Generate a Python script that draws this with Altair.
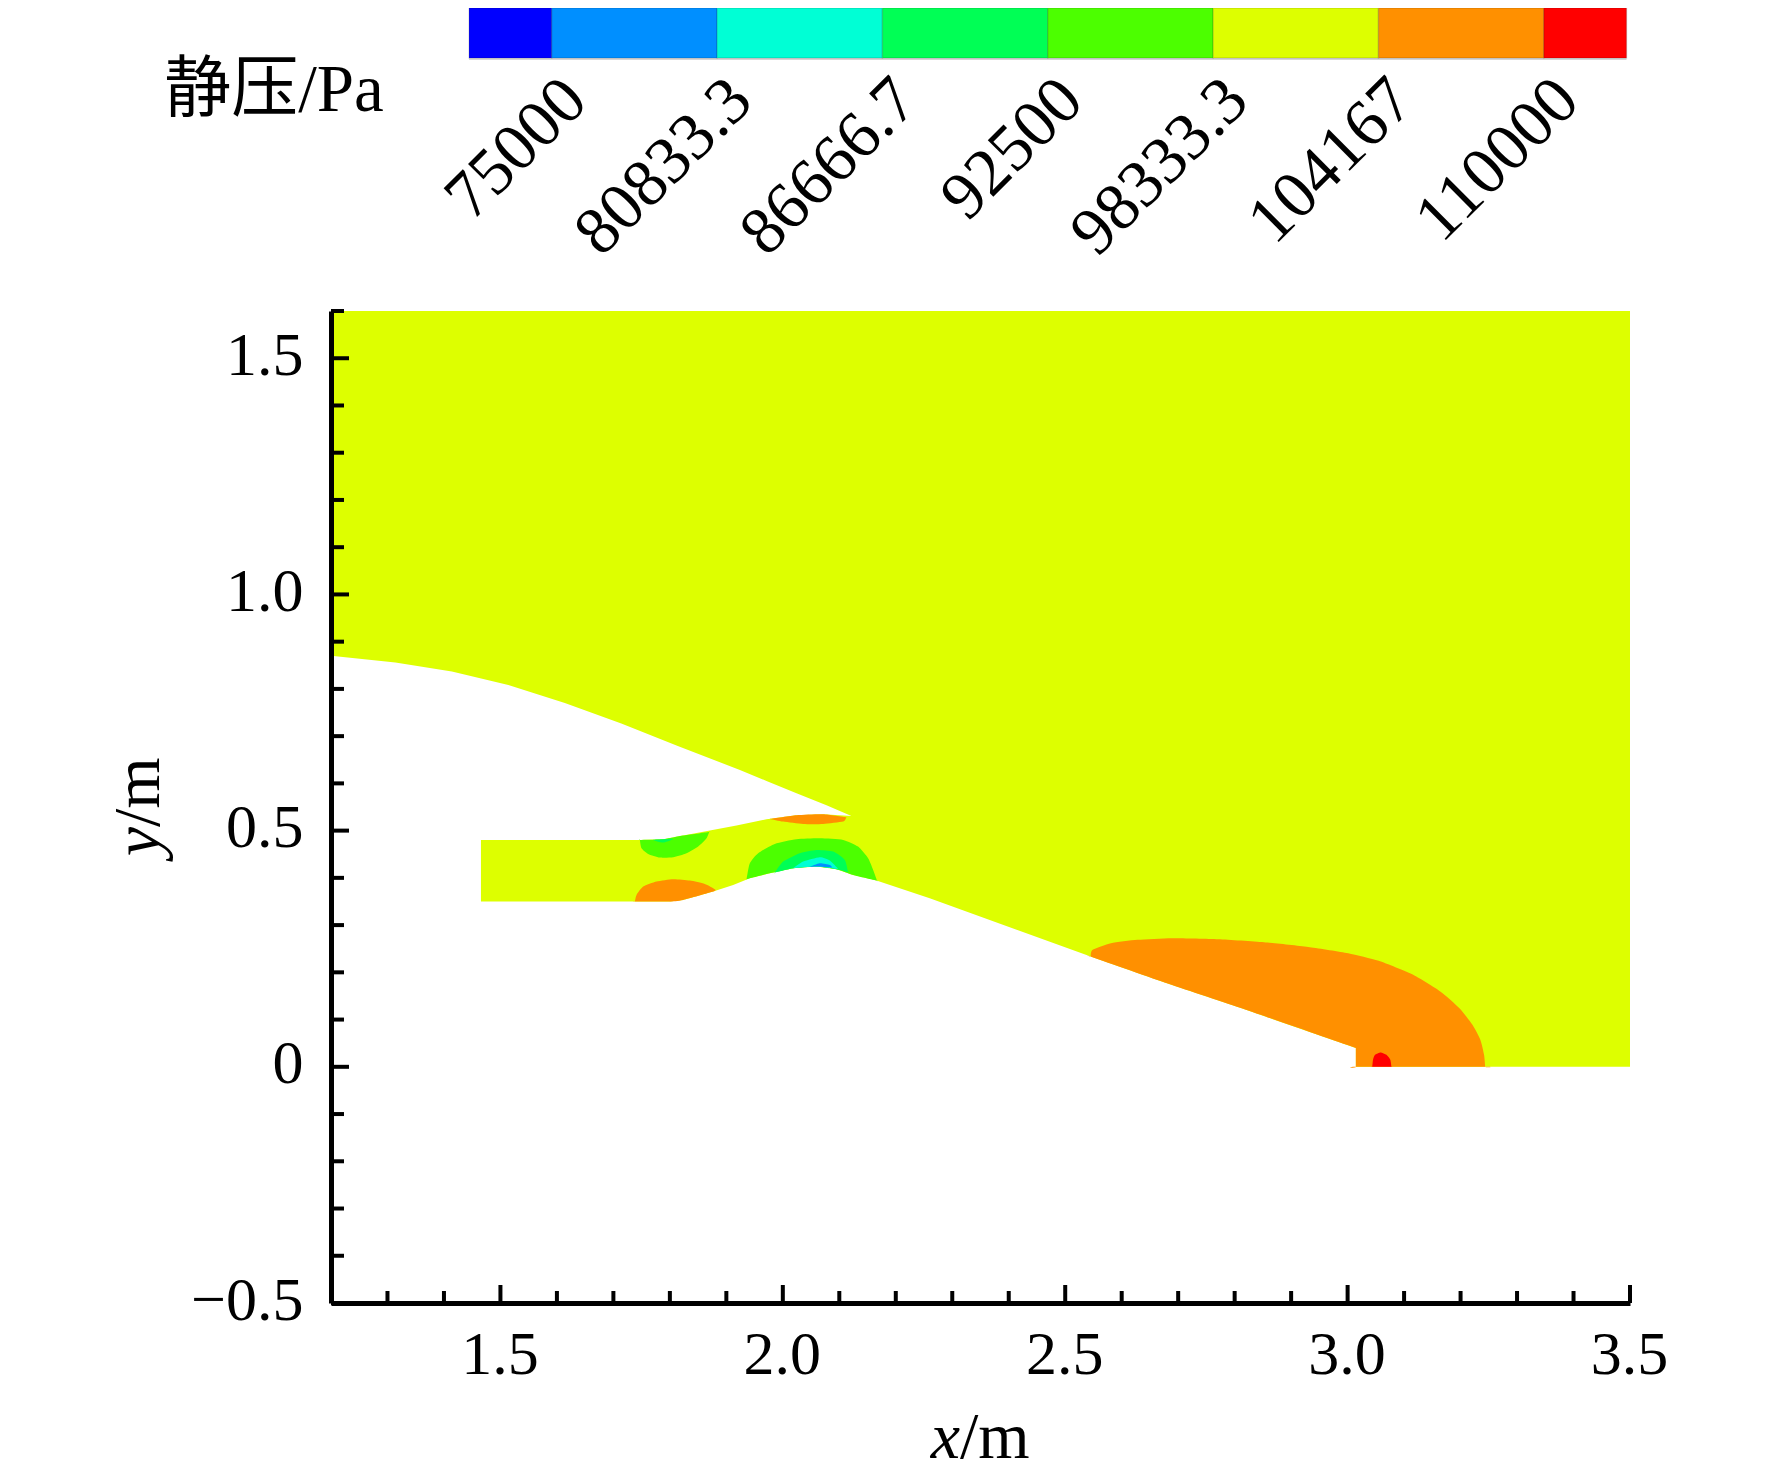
import altair as alt
import pandas as pd

SERIF = "Liberation Serif"
W, H = 1299, 992

# ---- geometry of the field, in metres ----
lower_wall = [(1.4655,.3498),(1.8,.35),(1.8236,.3533),(1.8767,.3710),(1.9121,.3851),(1.9416,.3992),
              (1.9770,.4097),(2.0183,.4203),(2.0596,.4239),(2.0950,.4182),(2.1245,.4062),(2.1658,.3942),
              (2.2601,.3568),(2.545,.2335),(2.676,.1785),(2.811,.1245),(3.0146,.0396)]
upper_wall = [(1.4655,.4803),(1.7469,.4803),(1.7882,.4817),(1.8236,.4895),(1.8708,.5000),(1.9180,.5106),
              (1.9711,.5240),(2.0242,.5325),(2.0714,.5346),(2.1215,.5311)]
nacelle = [(2.0773,.5536),(2.0242,.5790),(1.9711,.6051),(1.924,.6284),(1.814,.6791),(1.714,.7269),
           (1.614,.7700),(1.514,.8082),(1.414,.8369),(1.314,.8560),(1.2,.8704)]
field = [(1.2,1.6),(3.5,1.6),(3.5,0),(3.0146,0)] + lower_wall[::-1] + upper_wall + nacelle

orange_jet = [(2.545,.2335),(2.545,.2335),(2.5485,.2476),(2.581,.2617),(2.628,.2688),(2.689,.2723),(2.771,.2702),
              (2.852,.2638),(2.933,.2533),(3.001,.2406),(3.055,.2243),(3.116,.1947),(3.164,.1595),
              (3.198,.1242),(3.221,.0889),(3.235,.0572),(3.2416,.0255),(3.2436,0),(3.2436,0),(3.0146,0),(3.0146,0),
              (3.0146,.0396),(3.0146,.0396),(2.811,.1245),(2.676,.1785)]
red_spot = [(3.0437,0),(3.0437,0),(3.045,.0149),(3.0485,.0255),(3.0586,.0304),(3.0688,.0255),(3.0756,.0149),(3.0776,0),(3.0776,0)]
green_top = [(1.7469,.4803),(1.7469,.4803),(1.7498,.4627),(1.7616,.4507),(1.7823,.4429),(1.8059,.4436),(1.8295,.4521),
             (1.8501,.4662),(1.8649,.4838),(1.8696,.4972),(1.8696,.4972),(1.8236,.4895),(1.7882,.4817)]
green_top_core = [(1.7705,.4803),(1.7882,.4746),(1.8059,.4824),(1.7882,.4817)]
orange_low = [(1.7380,.3498),(1.7380,.3498),(1.7410,.3639),(1.7528,.3815),(1.7764,.3921),(1.8059,.3971),(1.8354,.3942),
              (1.8619,.3872),(1.8796,.3759),(1.8767,.3710),(1.8236,.3533),(1.8,.3498),(1.8,.3498)]
orange_lip = [(1.9770,.5247),(1.9770,.5247),(2.0242,.5325),(2.0714,.5346),(2.1127,.5282),(2.1127,.5282),(2.1068,.5191),(2.0714,.5141),
              (2.0360,.5141),(2.0006,.5191)]
hump_green = [(1.9357,.3971),(1.9357,.3971),(1.9416,.4309),(1.9563,.4521),(1.9858,.4718),(2.0242,.4817),(2.0655,.4838),
              (2.1068,.4803),(2.1333,.4662),(2.1510,.4415),(2.1599,.4168),(2.1669,.3942),(2.1669,.3942),(2.1245,.4062),
              (2.0950,.4182),(2.0596,.4239),(2.0183,.4203),(1.9770,.4097),(1.9416,.3992)]
hump_mid = [(1.9858,.4110),(1.9858,.4110),(2.0006,.4344),(2.0301,.4521),(2.0596,.4591),(2.0891,.4556),(2.1097,.4380),
            (2.1156,.4120),(2.1156,.4120),(2.0950,.4182),(2.0596,.4239),(2.0183,.4203)]
hump_cyan = [(2.0183,.4203),(2.0183,.4203),(2.0360,.4344),(2.0655,.4436),(2.0832,.4366),(2.0979,.4189),(2.0979,.4189),(2.0596,.4239)]
hump_blue = [(2.0466,.4232),(2.0466,.4232),(2.0655,.4309),(2.0832,.4274),(2.0879,.4217),(2.0879,.4217),(2.0596,.4239)]

level_colors = ["#0000FF","#008FFF","#00FFD5","#00FF55","#4CFF00","#DDFF00","#FF9000","#FF0000"]
regions = [(field,"#DDFF00"),(orange_jet,"#FF9000"),(red_spot,"#FF0000"),(green_top,"#4CFF00"),
           (green_top_core,"#00FF55"),(orange_low,"#FF9000"),(orange_lip,"#FF9000"),(hump_green,"#4CFF00"),
           (hump_mid,"#00FF55"),(hump_cyan,"#00FFD5"),(hump_blue,"#008FFF")]

# ---- colour bar ----
bar_edges = [72083.3,75000,80833.3,86666.7,92500,98333.3,104167,110000,112916.7]
bar_ticks = [75000,80833.3,86666.7,92500,98333.3,104167,110000]
bar_labels = ["75000","80833.3","86666.7","92500","98333.3","104167","110000"]

# ---- ticks ----
x_major = [1.5,2.0,2.5,3.0,3.5]
x_minor = [1.3,1.4,1.6,1.7,1.8,1.9,2.1,2.2,2.3,2.4,2.6,2.7,2.8,2.9,3.1,3.2,3.3,3.4]
y_major = [-0.5,0,0.5,1.0,1.5]
y_minor = [-0.4,-0.3,-0.2,-0.1,0.1,0.2,0.3,0.4,0.6,0.7,0.8,0.9,1.1,1.2,1.3,1.4,1.6]

xs = alt.Scale(domain=[1.2,3.5], nice=False, zero=False)
ys = alt.Scale(domain=[-0.5,1.6], nice=False, zero=False)
X_AX = alt.Axis(values=x_major, title=None, ticks=False, grid=False, labelFont=SERIF, labelFontSize=62,
                labelColor="black", labelPadding=21, domainColor="black", domainWidth=5, zindex=1,
                labelExpr="format(datum.value,'.1f')", labelOverlap=False, labelFlush=False, labelOffset=-1)
Y_AX = alt.Axis(values=y_major, title=None, ticks=False, grid=False, labelFont=SERIF, labelFontSize=62,
                labelColor="black", labelPadding=28, domainColor="black", domainWidth=5, zindex=1,
                labelExpr="datum.value===0?'0':(datum.value<0?'\u2212':'')+format(abs(datum.value),'.1f')",
                labelOverlap=False, labelFlush=False, labelOffset=-3)

main = []
for i, (pts, col) in enumerate(regions):
    df = pd.DataFrame({"x":[p[0] for p in pts],"y":[p[1] for p in pts],"i":range(len(pts))})
    curve = dict(interpolate="linear-closed") if i == 0 else dict(interpolate="cardinal-closed", tension=0.4)
    main.append(alt.Chart(df).mark_line(fill=col, strokeWidth=0, **curve).encode(
        x=alt.X("x:Q", scale=xs, axis=X_AX if i == 0 else None),
        y=alt.Y("y:Q", scale=ys, axis=Y_AX if i == 0 else None),
        order="i:Q"))

def xticks(vals, ln):
    return alt.Chart(pd.DataFrame({"v":vals})).mark_rule(color="black", strokeWidth=4).encode(
        x=alt.X("v:Q", scale=xs, axis=None), y=alt.value(H), y2=alt.value(H-ln))
def yticks(vals, ln):
    return alt.Chart(pd.DataFrame({"v":vals})).mark_rule(color="black", strokeWidth=4).encode(
        y=alt.Y("v:Q", scale=ys, axis=None), x=alt.value(0), x2=alt.value(ln))
main += [xticks(x_major,18), xticks(x_minor,12), yticks(y_major,18), yticks(y_minor,13)]

bs = alt.Scale(domain=[67213,113040], nice=False, zero=False)
bar_df = pd.DataFrame({"lo":bar_edges[:-1],"hi":bar_edges[1:],"c":level_colors})
bar_frame = alt.Chart(pd.DataFrame({"lo":[bar_edges[0]],"hi":[bar_edges[-1]]})).mark_rect(color="#d6d6d6").encode(
    x=alt.X("lo:Q", scale=bs, axis=None), x2="hi:Q", y=alt.value(-303), y2=alt.value(-251))
bar = alt.Chart(bar_df).mark_rect(strokeWidth=1.5, stroke="#000000", strokeOpacity=0.12).encode(
    x=alt.X("lo:Q", scale=bs, axis=None), x2="hi:Q", y=alt.value(-303), y2=alt.value(-253),
    color=alt.Color("c:N", scale=None, legend=None))
bar_txt = alt.Chart(pd.DataFrame({"v":bar_ticks,"t":bar_labels})).mark_text(
    font=SERIF, fontSize=67, angle=315, align="right", baseline="middle", dx=27, dy=7, color="black"
).encode(x=alt.X("v:Q", scale=bs, axis=None), y=alt.value(-207), text="t:N")

def label(txt, px, py, **kw):
    return alt.Chart(pd.DataFrame({"t":[txt]})).mark_text(color="black", **kw).encode(
        x=alt.value(px), y=alt.value(py), text="t:N")

CJK = SERIF + ", Noto Sans CJK SC"
texts = [
    label("静压/Pa", -57, -220, font=CJK, fontSize=67, align="center", baseline="middle"),
    label("x", 629, 1127, font=SERIF, fontSize=66, fontStyle="italic", align="right", baseline="middle"),
    label("/m", 629, 1127, font=SERIF, fontSize=66, align="left", baseline="middle"),
    label("y", -192, 516, font=SERIF, fontSize=66, fontStyle="italic", angle=270, align="right", baseline="middle"),
    label("/m", -192, 516, font=SERIF, fontSize=66, angle=270, align="left", baseline="middle"),
]

chart = alt.layer(*main, bar_frame, bar, bar_txt, *texts).resolve_scale(x="independent", y="independent").properties(
    width=W, height=H,
    padding={"left":323,"top":303,"right":134,"bottom":168},
    autosize=alt.AutoSizeParams(type="none"),
    background="white",
).configure_view(stroke=None)

chart.save("out.html", embed_options={"renderer":"svg","actions":False})
